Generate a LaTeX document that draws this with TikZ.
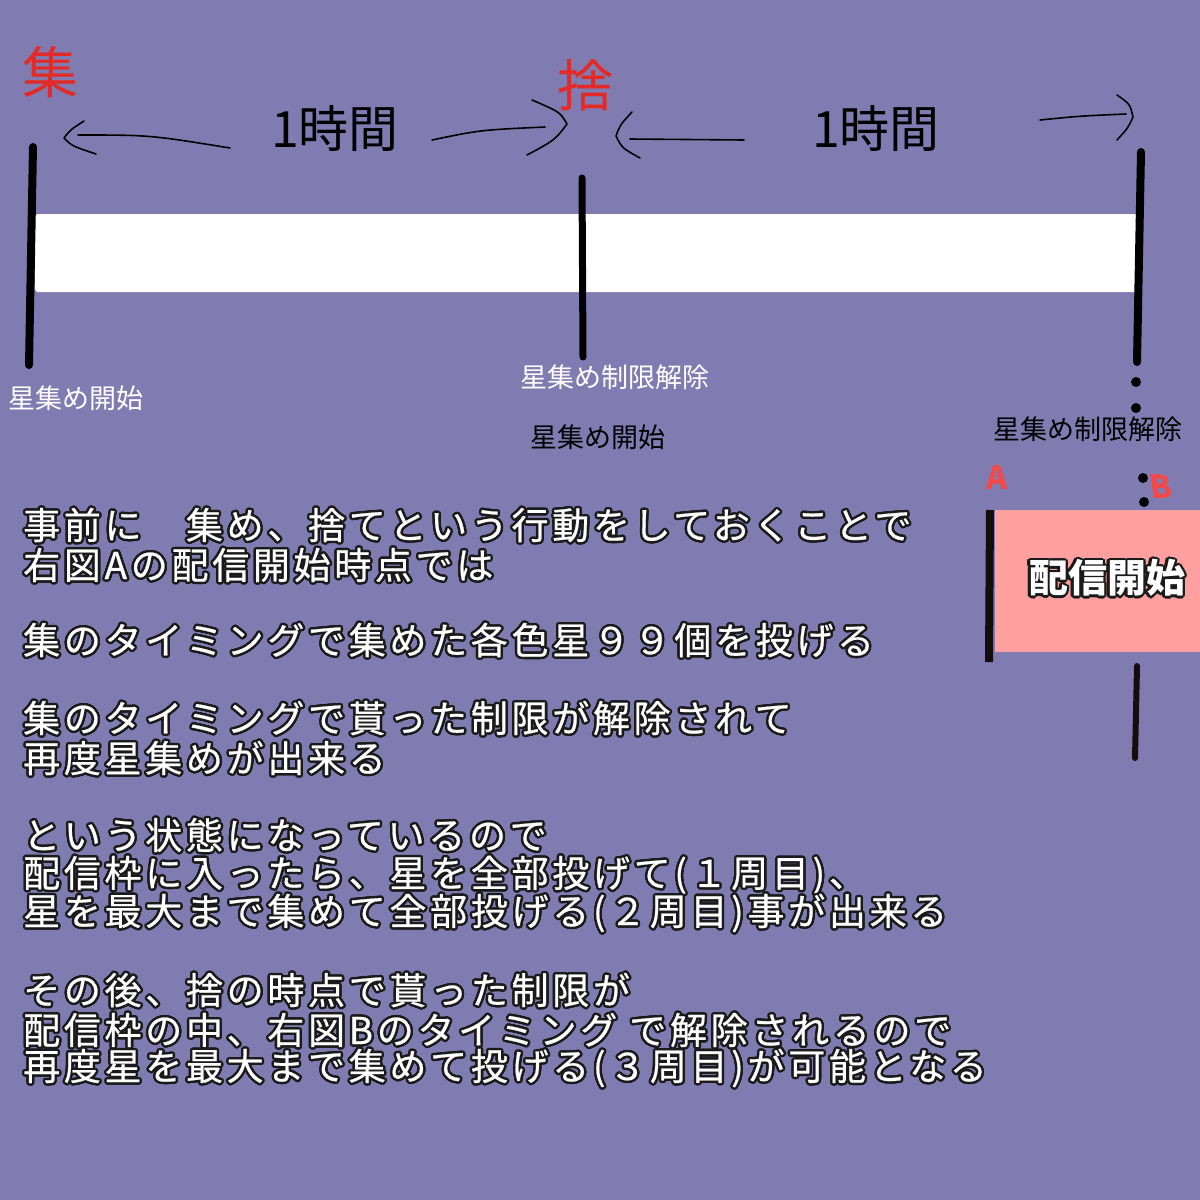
\documentclass[tikz,border=0pt]{standalone}
\usepackage{fontspec}
\newfontfamily\jp{Noto Sans CJK JP}
\newfontfamily\jpbody{Noto Sans CJK JP}[LetterSpace=10, FakeBold=0.6]
\definecolor{bg}{HTML}{807CB2}
\definecolor{pinkbox}{HTML}{FF9F9F}
\definecolor{redhand}{HTML}{E42A26}
\definecolor{redab}{HTML}{F24A4A}
\definecolor{barblack}{HTML}{150D0D}
\definecolor{olcol}{HTML}{1A1A1A}
\newlength\oldim
\setlength\oldim{2.4pt}
\newcommand\olc[3]{\rlap{\kern#1\oldim\raisebox{#2\oldim}{\textcolor{olcol}{#3}}}}
\newcommand\outl[1]{\leavevmode
\olc{1}{0}{#1}\olc{.924}{.383}{#1}\olc{.707}{.707}{#1}\olc{.383}{.924}{#1}%
\olc{0}{1}{#1}\olc{-.383}{.924}{#1}\olc{-.707}{.707}{#1}\olc{-.924}{.383}{#1}%
\olc{-1}{0}{#1}\olc{-.924}{-.383}{#1}\olc{-.707}{-.707}{#1}\olc{-.383}{-.924}{#1}%
\olc{0}{-1}{#1}\olc{.383}{-.924}{#1}\olc{.707}{-.707}{#1}\olc{.924}{-.383}{#1}%
\olc{.5}{0}{#1}\olc{-.5}{0}{#1}\olc{0}{.5}{#1}\olc{0}{-.5}{#1}%
\textcolor{white}{#1}}
\tikzset{
  hand/.style={line width=1.6pt, line cap=round, line join=round, black},
  tickbar/.style={line width=8pt, line cap=round, black},
  lab/.style={font=\jp\fontsize{27}{27}\selectfont, inner sep=0pt},
  bodyline/.style={font=\jpbody\fontsize{37}{37}\selectfont, anchor=west, inner sep=0pt},
  redmark/.style={text=redhand, font=\jp\fontsize{56}{56}\selectfont, inner sep=0pt},
  handtext/.style={font=\jp\fontsize{50}{50}\selectfont, inner sep=0pt},
  abmark/.style={text=redab, font=\jp\bfseries\fontsize{32}{32}\selectfont, inner sep=0pt},
  dotmark/.style={circle, fill=black, inner sep=0pt, minimum size=10pt},
}
\begin{document}
\begin{tikzpicture}[x=1pt,y=-1pt]
\fill[bg] (0,0) rectangle (1200,1200);
\useasboundingbox (0,0) rectangle (1200,1200);

% white timeline band
\fill[white, rounded corners=3pt] (35,214) rectangle (1137,292);

% ticks
\coordinate (lt) at (33,147); \coordinate (lb) at (29,365);
\coordinate (mt) at (582,178); \coordinate (mb) at (583,357);
\coordinate (rt) at (1141,152); \coordinate (rb) at (1137,362);
\draw[tickbar] (lt) -- (lb);
\draw[tickbar, line width=7pt] (mt) -- (mb);
\draw[tickbar] (rt) -- (rb);
\node[dotmark] (d1) at (1136,382) {};
\node[dotmark] (d2) at (1136,408) {};
\node[dotmark] (d3) at (1143,478) {};
\node[dotmark] (d4) at (1144,502) {};

% red marks
\node[redmark] (shu) at (50,72) {集};
\node[redmark] (sha) at (585,85) {捨};

% handwritten arrows, first hour
\coordinate (c1a) at (84,121); \coordinate (c1b) at (64,138); \coordinate (c1c) at (96,154);
\draw[hand] (c1a) .. controls (70,130) .. (c1b) .. controls (72,146) .. (c1c);
\coordinate (l1a) at (78,135); \coordinate (l1b) at (230,148);
\draw[hand] (l1a) .. controls (150,135) .. (l1b);
\node[handtext] (h1) at (335,128) {1時間};
\coordinate (l2a) at (432,140); \coordinate (l2b) at (545,127);
\draw[hand] (l2a) .. controls (480,130) .. (l2b);
\coordinate (c2a) at (532,100); \coordinate (c2b) at (567,124); \coordinate (c2c) at (527,155);
\draw[hand] (c2a) .. controls (560,112) .. (c2b) .. controls (555,140) .. (c2c);

% handwritten arrows, second hour
\coordinate (c3a) at (632,112); \coordinate (c3b) at (616,136); \coordinate (c3c) at (640,158);
\draw[hand] (c3a) .. controls (620,125) .. (c3b) .. controls (622,148) .. (c3c);
\coordinate (l3a) at (630,139); \coordinate (l3b) at (744,140);
\draw[hand] (l3a) -- (l3b);
\node[handtext] (h2) at (876,128) {1時間};
\coordinate (l4a) at (1040,120); \coordinate (l4b) at (1126,114);
\draw[hand] (l4a) .. controls (1080,116) .. (l4b);
\coordinate (c4a) at (1117,95); \coordinate (c4b) at (1133,117); \coordinate (c4c) at (1117,140);
\draw[hand] (c4a) .. controls (1130,104) .. (c4b) .. controls (1128,128) .. (c4c);

% labels under the band
\node[lab, text=white] (lab1) at (76,398) {星集め開始};
\node[lab, text=white] (lab2) at (615,377) {星集め制限解除};
\node[lab, text=black] (lab3) at (598,437) {星集め開始};
\node[lab, text=black] (lab4) at (1088,429) {星集め制限解除};

% right: broadcast start box
\fill[pinkbox] (995,510) rectangle (1200,652);
\coordinate (at) at (990,510); \coordinate (ab) at (989,662);
\draw[line width=8pt, barblack] (at) -- (ab);
\coordinate (bt) at (1137,666); \coordinate (bb) at (1135,758);
\draw[line width=6pt, line cap=round, barblack] (bt) -- (bb);
\node[abmark] (A) at (997,478) {A};
\node[abmark, xslant=-0.15] (B) at (1161,487) {B};
\node[inner sep=0pt, font=\jp\bfseries\fontsize{39}{39}\selectfont] (haishin) at (1107,578) {\outl{配信開始}};

% body text
\node[bodyline] (t1) at (23,525) {\outl{事前に　集め、捨てという行動をしておくことで}};
\node[bodyline] (t2) at (23,565) {\outl{右図Aの配信開始時点では}};
\node[bodyline] (t3) at (23,640) {\outl{集のタイミングで集めた各色星９９個を投げる}};
\node[bodyline] (t4) at (23,718) {\outl{集のタイミングで貰った制限が解除されて}};
\node[bodyline] (t5) at (23,758) {\outl{再度星集めが出来る}};
\node[bodyline] (t6) at (23,835) {\outl{という状態になっているので}};
\node[bodyline] (t7) at (23,875) {\outl{配信枠に入ったら、星を全部投げて(１周目)、}};
\node[bodyline] (t8) at (23,913) {\outl{星を最大まで集めて全部投げる(２周目)事が出来る}};
\node[bodyline] (t9) at (23,990) {\outl{その後、捨の時点で貰った制限が}};
\node[bodyline] (t10) at (23,1030) {\outl{配信枠の中、右図Bのタイミング で解除されるので}};
\node[bodyline] (t11) at (23,1068) {\outl{再度星を最大まで集めて投げる(３周目)が可能となる}};
\end{tikzpicture}
\end{document}
